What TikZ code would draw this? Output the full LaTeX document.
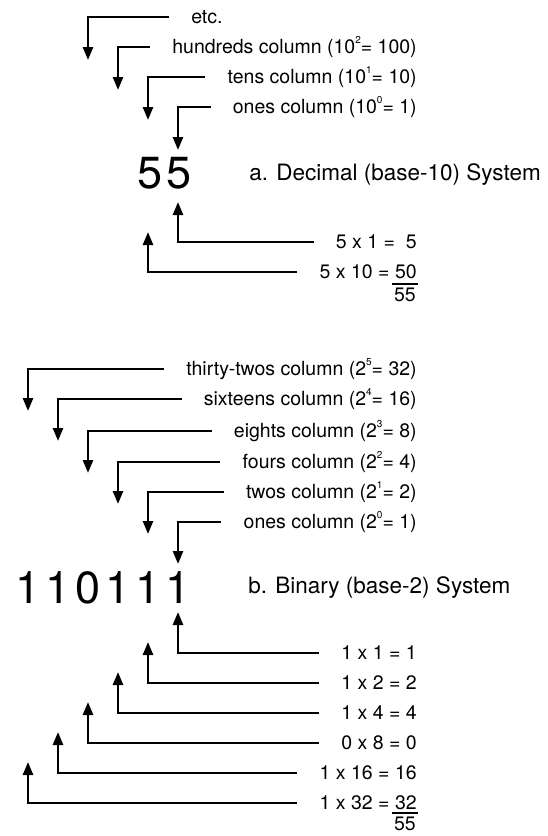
\documentclass[tikz,border=0pt]{standalone}
\usepackage{fontspec}
\setmainfont{TeX Gyre Heros}
\usetikzlibrary{calc,arrows.meta}
\newcommand\colmark[3]{\node[col node](#1)at(418,#2){#3};}
\newcommand\pw[1]{\raisebox{.5em}{\fontsize{10}{10}\selectfont#1}}

\begin{document}
\begin{tikzpicture}[x=1pt,y=-1pt,font=\fontsize{19.5}{22}\selectfont,line width=2.6pt]
% Node styles: column labels, big digits, titles and sums
\tikzstyle{col node}=[anchor=east,inner sep=0];
\tikzstyle{digit node}=[font=\fontsize{45}{50}\selectfont,inner sep=0];
\tikzstyle{title node}=[anchor=west,font=\fontsize{22.5}{26}\selectfont,inner sep=0];
\tikzstyle{sum node}=[anchor=north east,inner xsep=1pt,inner ysep=2.5pt];
\tikzstyle{col arrow}=[-{Triangle[length=13pt,width=10pt]}]
\useasboundingbox(0,0)rectangle(547,836);
% a. Decimal system
\node[digit node](a2)at(150,173){5};
\node[digit node](a1)at(179,173){5};
\node[title node](ta)at(248,175){a. Decimal (base-10) System};
\node[anchor=west,inner sep=0](u4)at(190,17){etc.};
\colmark{u3}{47}{hundreds column (10\pw{2}= 100)}
\colmark{u2}{77}{tens column (10\pw{1}= 10)}
\colmark{u1}{107}{ones column (10\pw{0}= 1)}
\colmark{v1}{242}{5 x 1 =\ \ 5}
\colmark{v2}{272}{5 x 10 = 50}
\node[sum node](vs)at(418,284){55};
\draw[line width=2pt](vs.north west)--(vs.north east);
% decimal arrows
\foreach \n/\x/\y in {4/88/17,3/118/47,2/148/77,1/178/107}
{\coordinate(ut\n)at(\x,\y+43);
\draw[col arrow]([xshift=-21pt]u\n.west)-|(ut\n);}
\foreach \n/\x/\y in {1/178/242,2/148/272}
{\coordinate(vt\n)at(\x,\y-40);
\draw[col arrow]([xshift=-21pt]v\n.west)-|(vt\n);}
% b. Binary system
\foreach \d[count=\i] in {1,1,0,1,1,1}
\node[digit node](b\i)at(-2+30*\i,588){\d};
\node[title node](tb)at(247,588){b. Binary (base-2) System};
\colmark{c6}{369}{thirty-twos column (2\pw{5}= 32)}
\colmark{c5}{399}{sixteens column (2\pw{4}= 16)}
\colmark{c4}{431}{eights column (2\pw{3}= 8)}
\colmark{c3}{462}{fours column (2\pw{2}= 4)}
\colmark{c2}{492}{twos column (2\pw{1}= 2)}
\colmark{c1}{522}{ones column (2\pw{0}= 1)}
\colmark{p1}{653}{1 x 1 = 1}
\colmark{p2}{683}{1 x 2 = 2}
\colmark{p3}{713}{1 x 4 = 4}
\colmark{p4}{743}{0 x 8 = 0}
\colmark{p5}{773}{1 x 16 = 16}
\colmark{p6}{803}{1 x 32 = 32}
\node[sum node](ps)at(418,813){55};
\draw[line width=2pt](ps.north west)--(ps.north east);
% binary arrows
\foreach \n/\x/\y in {6/28/369,5/58/399,4/88/431,3/118/462,2/148/492,1/178/522}
{\coordinate(ct\n)at(\x,\y+42);
\draw[col arrow]([xshift=-21pt]c\n.west)-|(ct\n);}
\foreach \n/\x/\y in {1/178/653,2/148/683,3/118/713,4/88/743,5/58/773,6/28/803}
{\coordinate(pt\n)at(\x,\y-41);
\draw[col arrow]([xshift=-21pt]p\n.west)-|(pt\n);}
\end{tikzpicture}
\end{document}
